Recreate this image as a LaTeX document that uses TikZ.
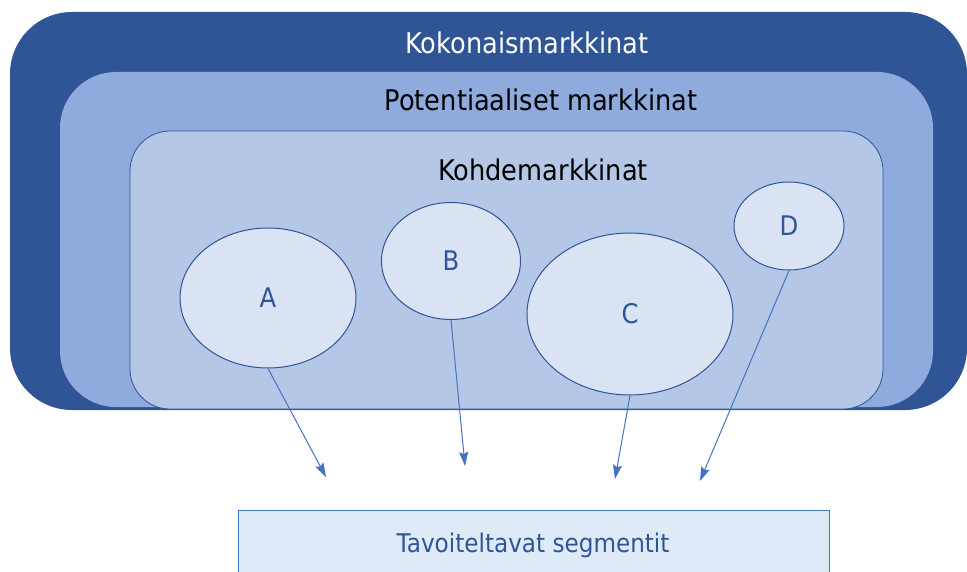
\documentclass[tikz,border=0pt]{standalone}
\usepackage{fontspec}
\setmainfont{DejaVu Sans}[FakeStretch=0.9]
\usetikzlibrary{shapes.geometric,arrows.meta}
\definecolor{dark}{HTML}{2F5597}
\definecolor{mid}{HTML}{8FAADC}
\definecolor{inner}{HTML}{B4C7E7}
\definecolor{pale}{HTML}{DAE3F3}
\definecolor{arrowc}{HTML}{4472C4}
\definecolor{boxc}{HTML}{DEEBF7}
\tikzset{
  seg/.style={ellipse, draw=dark, line width=1pt, fill=pale, inner sep=0pt, text=dark,
    font=\fontsize{27}{32}\selectfont},
  title/.style={font=\fontsize{28.5}{34}\selectfont, inner sep=0pt},
  conn/.style={draw=arrowc, line width=1pt, -{Stealth[length=14pt,width=9pt,inset=2pt]}}
}
\begin{document}
\begin{tikzpicture}[x=1pt,y=-1pt]
\useasboundingbox (0,0) rectangle (967,572);
\clip (0,0) rectangle (967,572);
% nested markets
\fill[dark, rounded corners=62pt] (10,12) rectangle (967,410);
\fill[mid, rounded corners=56pt] (60,72) rectangle (933,407);
\draw[dark, line width=0.8pt, fill=inner, rounded corners=40pt] (130,131) rectangle (883,409);
\node[title, text=white] (koko) at (527,43) {Kokonaismarkkinat};
\node[title, text=black] (pot) at (541,100) {Potentiaaliset markkinat};
\node[title, text=black] (kohde) at (543,170) {Kohdemarkkinat};
% segments
\node[seg, minimum width=176pt, minimum height=140pt] (A) at (268,298) {A};
\node[seg, minimum width=139pt, minimum height=117pt] (B) at (451,261) {B};
\node[seg, minimum width=206pt, minimum height=162pt] (C) at (630,314) {C};
\node[seg, minimum width=110pt, minimum height=88pt] (D) at (789,226) {D};
% target box
\node[draw=arrowc, line width=1pt, fill=boxc, minimum width=591pt, minimum height=80pt,
  inner sep=0pt, anchor=north west] (box) at (238,510) {};
\node[text=dark, font=\fontsize{25.7}{30}\selectfont, inner sep=0pt] (tav) at (533,545) {Tavoiteltavat segmentit};
% arrows
\coordinate (ea) at (326,477);
\coordinate (eb) at (465,466);
\coordinate (ec) at (615,479);
\coordinate (ed) at (700,481);
\draw[conn] (A.south) -- (ea);
\draw[conn] (B.south) -- (eb);
\draw[conn] (C.south) -- (ec);
\draw[conn] (D.south) -- (ed);
\end{tikzpicture}
\end{document}
